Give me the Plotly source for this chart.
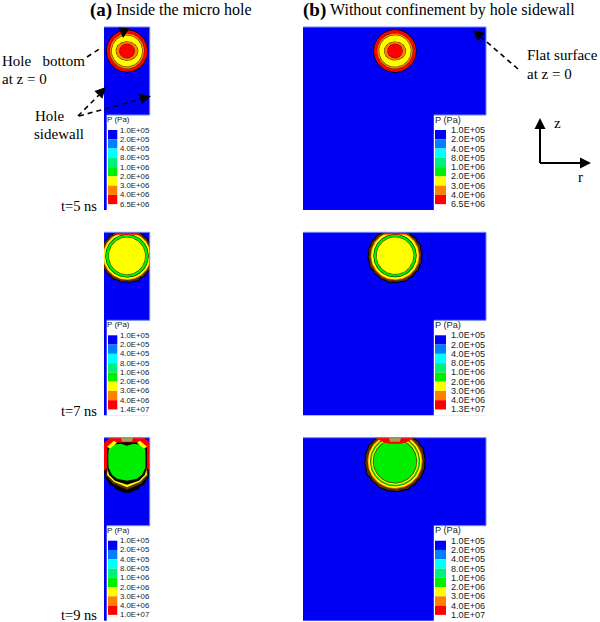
import numpy as np
import plotly.graph_objects as go

W, H = 600, 622

# ---- pressure legend ----
LEVEL_LABELS = ["1.0E+05", "2.0E+05", "4.0E+05", "8.0E+05", "1.0E+06", "2.0E+06", "3.0E+06", "4.0E+06"]
TOP_LABEL = {"a5": "6.5E+06", "b5": "6.5E+06", "a7": "1.4E+07", "b7": "1.3E+07", "a9": "1.0E+07", "b9": "1.0E+07"}

# band index -> colour (0..7 legend bands; 8 contour line; 9 burnt edge; 10 central cap)
BAND_COLORS = ["#0000f5", "#0080ff", "#00ffff", "#00f080", "#00ee00", "#ffff00", "#ff8000", "#ff0000",
               "#000000", "#5e3000", "#a8a040"]
LEGEND_BANDS = [0, 1, 2, 3, 4, 5, 6, 7]

# ---- contour rings, outermost first: radial half-width, axial half-width, band ----
A5_RX = [21.0, 20.3, 17.6, 17.1, 15.7, 15.2, 11.4, 10.9, 7.9, 7.4]
A5_RZ = [21.5, 20.8, 18.1, 17.6, 16.0, 15.5, 9.7, 9.2, 7.5, 7.0]
A5_BD = [8, 7, 9, 6, 9, 5, 9, 6, 9, 7]
A5_CZ = 24.0

B5_RX = [21.7, 21.0, 18.2, 17.7, 16.3, 15.8, 11.1, 10.6, 7.8, 7.3]
B5_RZ = [21.7, 21.0, 18.2, 17.7, 16.3, 15.8, 9.5, 9.0, 7.5, 7.0]
B5_BD = [8, 7, 9, 6, 9, 5, 9, 6, 9, 7]
B5_CZ = 24.0

A7_RX = [26.4, 25.5, 24.1, 23.4, 21.7, 21.2, 18.6, 18.1]
A7_RZ = [26.4, 25.5, 24.1, 23.4, 21.7, 21.2, 19.0, 18.5]
A7_BD = [8, 9, 6, 5, 8, 4, 9, 5]
A7_CZ = 23.6

B7_RX = [26.9, 25.9, 24.4, 23.6, 21.6, 21.1, 18.9, 18.4]
B7_RZ = [26.9, 25.9, 24.4, 23.6, 21.6, 21.1, 18.9, 18.4]
B7_BD = [8, 9, 6, 5, 8, 4, 9, 5]
B7_CZ = 23.4

B9_RX = [30.3, 29.2, 27.4, 26.6, 25.0, 24.5, 23.4, 22.2, 21.4, 20.8]
B9_RZ = [30.3, 29.2, 27.4, 26.6, 25.0, 24.5, 23.4, 22.2, 21.4, 20.8]
B9_BD = [8, 9, 6, 5, 9, 4, 5, 9, 4, 4]
B9_CZ = 23.6

# small outward steps read along the ragged outer front (7 ns and 9 ns)
FRONT_STEPS = [0.0, 0.9, 0.2, 1.0, 0.0, 0.7, 0.1, 1.1, 0.3, 0.8]

# ---- irregular regions: r values, z values, band ----
A7_CAP_R = [-12.5, 12.5, 11.5, -11.5]
A7_CAP_Z = [0, 0, 2.5, 2.5]
B7_CAP_R = [-12, 12, 10.5, -10.5]
B7_CAP_Z = [0, 0, 2.3, 2.3]

B9_CAP_R = [-18, 18, 14, 6, 0, -6, -14]
B9_CAP_Z = [0, 0, 3.5, 6, 6, 6, 3.5]
B9_CORE_R = [-6, 6, 5, -5]
B9_CORE_Z = [0, 0, 4, 4]

A9_EDGE_R = [-17, 17, 23, 23, 22, 20, 17, 14, 11, 7, 3, 0, -3, -7, -11, -14, -17, -20, -22, -23, -23]
A9_EDGE_Z = [0, 0, 5, 34, 40, 42, 47, 48, 52, 53, 55, 55, 55, 53, 52, 48, 47, 42, 40, 34, 5]
A9_RED_R = [-17, 17, 23, 23, 19.5, 19.5, 20, 14, 0, -14, -20, -19.5, -19.5, -23, -23]
A9_RED_Z = [0, 0, 5, 33, 30, 18, 10, 5, 4.5, 5, 10, 18, 30, 33, 5]
A9_BURN_R = [-21, -14, 0, 14, 21, 20, -20]
A9_BURN_Z = [38, 46, 52, 46, 38, 30, 30]
A9_YEL_R = [-20, -13, 0, 13, 20, 19, -19]
A9_YEL_Z = [37, 44, 49.5, 44, 37, 30, 30]
A9_LINE_R = [-19.8, -14, 0, 14, 19.8, 19.4, 19.6, 18, 12, 0, -12, -18, -19.6, -19.4]
A9_LINE_Z = [10, 6, 6, 6, 10, 20, 30, 37, 43, 47, 43, 37, 30, 20]
A9_GRN_R = [-18.5, -14, -6, 0, 6, 14, 18.5, 18.8, 18.5, 15, 10, 0, -10, -15, -18.5, -18.8]
A9_GRN_Z = [12, 7, 6, 8, 6, 7, 12, 20, 30, 37, 41, 43, 41, 37, 30, 20]
A9_CRL_R = [-20, -13, -10, -17]
A9_CRL_Z = [9, 3, 5, 11]
A9_CRR_R = [20, 13, 10, 17]
A9_CRR_Z = [9, 3, 5, 11]
A9_CORE_R = [-6, 6, 5, -5]
A9_CORE_Z = [0, 0, 4, 4]

PANELS = {
    "a5": dict(rings=(A5_RX, A5_RZ, A5_BD, A5_CZ), polys=[], rag=False),
    "b5": dict(rings=(B5_RX, B5_RZ, B5_BD, B5_CZ), polys=[], rag=False),
    "a7": dict(rings=(A7_RX, A7_RZ, A7_BD, A7_CZ), polys=[(A7_CAP_R, A7_CAP_Z, 7)], rag=True),
    "b7": dict(rings=(B7_RX, B7_RZ, B7_BD, B7_CZ), polys=[(B7_CAP_R, B7_CAP_Z, 7)], rag=True),
    "a9": dict(rings=None, rag=False,
               polys=[(A9_EDGE_R, A9_EDGE_Z, 8), (A9_RED_R, A9_RED_Z, 7), (A9_BURN_R, A9_BURN_Z, 9),
                      (A9_YEL_R, A9_YEL_Z, 5), (A9_LINE_R, A9_LINE_Z, 8), (A9_GRN_R, A9_GRN_Z, 4),
                      (A9_CRL_R, A9_CRL_Z, 5), (A9_CRR_R, A9_CRR_Z, 5), (A9_CORE_R, A9_CORE_Z, 10)]),
    "b9": dict(rings=(B9_RX, B9_RZ, B9_BD, B9_CZ), polys=[(B9_CAP_R, B9_CAP_Z, 7), (B9_CORE_R, B9_CORE_Z, 10)], rag=True),
}

# ---- page layout in pixels ----
ROW_TOP = {"5": 27.0, "7": 232.3, "9": 437.7}
PANEL_H = 183.0
COL = {"a": dict(x0=104.0, x1=149.7, rc=127.0, box=106.7, block=(108.0, 117.3), tx=120.0, fs=7.8, hx=107.0, hfs=8),
       "b": dict(x0=303.0, x1=486.0, rc=395.0, box=433.8, block=(435.0, 446.0), tx=451.0, fs=9.1, hx=435.0, hfs=9.2)}
BLOCK_H = 9.27
BOX_TOP = 88.0

X = lambda p: p / W
Y = lambda p: 1 - p / H

fig = go.Figure()
layout = {}
shapes = []
annots = []

def text(x, y, s, size, family="Liberation Serif", color="#000000", bold=False, anchor="left"):
    annots.append(dict(x=X(x), y=Y(y), xref="paper", yref="paper", text=f"<b>{s}</b>" if bold else s,
                       showarrow=False, xanchor=anchor, yanchor="middle", borderpad=0, borderwidth=0,
                       font=dict(size=size, family=family, color=color)))

for i, (key, pan) in enumerate(PANELS.items(), start=1):
    col, row = COL[key[0]], ROW_TOP[key[1]]
    sfx = "" if i == 1 else str(i)
    layout[f"xaxis{sfx}"] = dict(domain=[X(col["x0"]), X(col["x1"])],
                                 range=[col["x0"] - col["rc"], col["x1"] - col["rc"]],
                                 visible=False, anchor=f"y{sfx}", fixedrange=True)
    layout[f"yaxis{sfx}"] = dict(domain=[Y(row + PANEL_H), Y(row)], range=[PANEL_H, 0],
                                 visible=False, anchor=f"x{sfx}", fixedrange=True)
    ax = dict(xaxis=f"x{sfx}", yaxis=f"y{sfx}")
    def add(xs, ys, band):
        c = BAND_COLORS[band]
        fig.add_trace(go.Scatter(x=list(xs), y=list(ys), mode="lines", fill="toself", fillcolor=c,
                                 line=dict(color=c, width=0), hoverinfo="skip", showlegend=False, **ax))
    if pan["rings"]:
        rx, rz, bd, cz = pan["rings"]
        th = np.linspace(0, 2 * np.pi, 121)
        for n, (a, b, band) in enumerate(zip(rx, rz, bd)):
            if pan["rag"] and n < 2:
                step = np.array([FRONT_STEPS[(k // 3) % len(FRONT_STEPS)] for k in range(len(th))])
                step[-1] = step[0]
            else:
                step = 0.0
            add((a + step) * np.cos(th), cz + (b + step) * np.sin(th), band)
    for rs, zs, band in pan["polys"]:
        add(rs + rs[:1], zs + zs[:1], band)

    # legend box
    shapes.append(dict(type="rect", xref="paper", yref="paper", x0=X(col["box"]), x1=X(col["x1"] + 0.5),
                       y0=Y(row + PANEL_H + 0.5), y1=Y(row + BOX_TOP), fillcolor="white", line_width=0))
    # thin light edge of the panel
    shapes.append(dict(type="path", xref="paper", yref="paper",
                       path=f"M {X(col['x0'])} {Y(row)} L {X(col['x1'])} {Y(row)} L {X(col['x1'])} {Y(row + BOX_TOP)} L {X(col['box'])} {Y(row + BOX_TOP)}",
                       line=dict(color="#6f86ff", width=1)))
    base = row + 103.0
    for j, band in enumerate(LEGEND_BANDS):
        shapes.append(dict(type="rect", xref="paper", yref="paper", x0=X(col["block"][0]), x1=X(col["block"][1]),
                           y0=Y(base + (j + 1) * BLOCK_H), y1=Y(base + j * BLOCK_H),
                           fillcolor=BAND_COLORS[band], line_width=0))
    text(col["hx"], row + 92.5, "P (Pa)", col["hfs"], "Liberation Sans", "#222222")
    for j, lab in enumerate(LEVEL_LABELS + [TOP_LABEL[key]]):
        text(col["tx"], base + j * BLOCK_H, lab, col["fs"], "Liberation Sans", "#222222")

# ---- titles and callouts ----
text(89.5, 9.5, "(a)", 19, bold=True)
text(116, 9.5, "Inside the micro hole", 16)
text(302.5, 9.5, "(b)", 19, bold=True)
text(330, 9.5, "Without confinement by hole sidewall", 16)
text(2, 61, "Hole&nbsp;&nbsp;&nbsp;bottom", 15)
text(2, 79, "at z = 0", 15)
text(35, 116, "Hole", 15)
text(34, 134, "sidewall", 15)
text(527, 55, "Flat surface", 15)
text(527, 74, "at z = 0", 15)
text(554, 123, "z", 15)
text(578, 177, "r", 15)
for lab, y in (("t=5 ns", 206), ("t=7 ns", 411), ("t=9 ns", 615)):
    text(61, y, lab, 14.5)

def head(tip, frm, size=11, half=5.5):
    t, f = np.array(tip, float), np.array(frm, float)
    d = (t - f) / np.linalg.norm(t - f)
    n = np.array([-d[1], d[0]])
    b = t - d * size
    p1, p2 = b + n * half, b - n * half
    path = f"M {X(t[0])} {Y(t[1])} L {X(p1[0])} {Y(p1[1])} L {X(p2[0])} {Y(p2[1])} Z"
    shapes.append(dict(type="path", xref="paper", yref="paper", path=path, fillcolor="black", line_width=0))

def line(a, b, dash="dash", width=1.6):
    shapes.append(dict(type="line", xref="paper", yref="paper", x0=X(a[0]), y0=Y(a[1]), x1=X(b[0]), y1=Y(b[1]),
                       line=dict(color="black", width=width, dash="5px,4px" if dash == "dash" else "solid")))

line((87, 57), (101, 48))
head((123, 38), (124, 27), size=10, half=5.5)
line((78, 116), (99, 95))
head((106, 87), (78, 116))
line((79, 116), (141, 99))
head((151, 96), (79, 116))
line((518, 69), (481, 37))
head((473, 30), (518, 69))
# r-z axes mark
line((540, 163), (540, 126), dash=None, width=2)
head((540, 118), (540, 163))
line((540, 163), (582, 163), dash=None, width=2)
head((591, 163), (540, 163))

fig.update_layout(width=W, height=H, margin=dict(l=0, r=0, t=0, b=0), autosize=False,
                  paper_bgcolor="white", plot_bgcolor=BAND_COLORS[0], showlegend=False,
                  shapes=shapes, annotations=annots, **layout)
fig.write_html("out.html", config={"displayModeBar": False}, post_script="document.body.style.margin='0';")
